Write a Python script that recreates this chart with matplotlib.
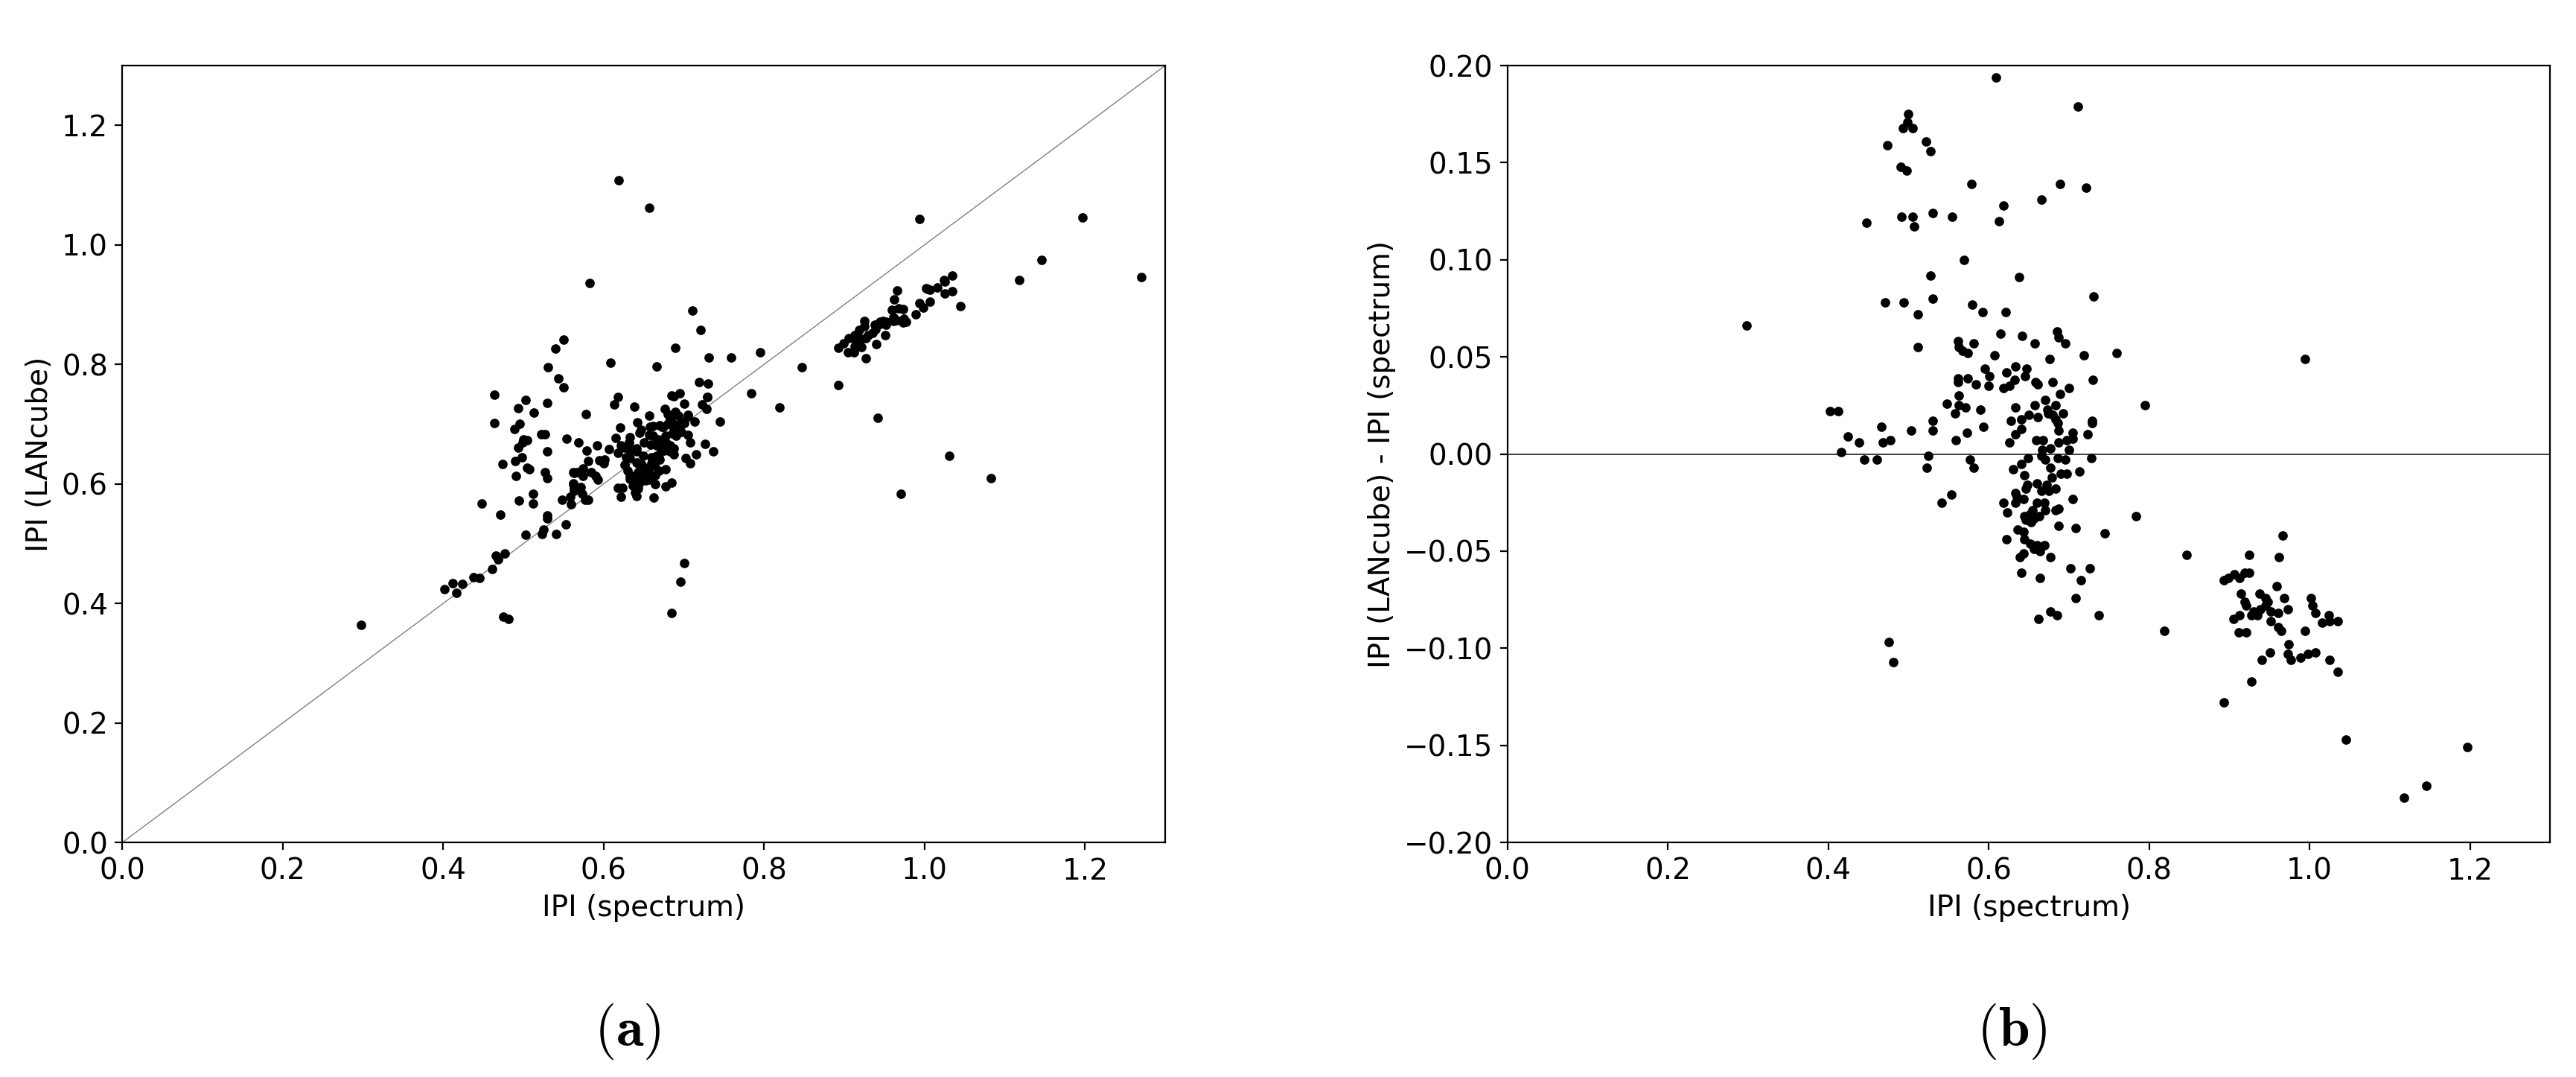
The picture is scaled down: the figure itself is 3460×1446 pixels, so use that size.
import numpy as np
import matplotlib.pyplot as plt

plt.rcParams['font.family'] = ['DejaVu Sans']
plt.rcParams['mathtext.fontset'] = 'cm'

# (IPI spectrum, IPI LANcube - IPI spectrum)
left_group = [
    (0.298, 0.066),
    (0.402, 0.022), (0.412, 0.022), (0.424, 0.009), (0.438, 0.006), (0.416, 0.001),
    (0.445, -0.003), (0.461, -0.003), (0.466, 0.014), (0.468, 0.006), (0.477, 0.007),
    (0.448, 0.119), (0.471, 0.078), (0.474, 0.159), (0.475, -0.097), (0.481, -0.107),
    (0.490, 0.148), (0.491, 0.122), (0.493, 0.168), (0.494, 0.078), (0.498, 0.146),
    (0.499, 0.171), (0.500, 0.175), (0.503, 0.012), (0.505, 0.168), (0.505, 0.122),
    (0.507, 0.117), (0.512, 0.072), (0.512, 0.055), (0.522, 0.161), (0.523, -0.007),
    (0.525, -0.001), (0.527, 0.156), (0.527, 0.092), (0.530, 0.124), (0.530, 0.080),
    (0.530, 0.017), (0.530, 0.012), (0.541, -0.025), (0.548, 0.026), (0.553, -0.021),
    (0.554, 0.122),
]

upper_main = [
    (0.609, 0.194), (0.711, 0.179), (0.578, 0.139), (0.689, 0.139), (0.721, 0.137),
    (0.666, 0.131), (0.618, 0.128), (0.613, 0.120), (0.569, 0.100), (0.638, 0.091),
    (0.731, 0.081), (0.579, 0.077), (0.592, 0.073), (0.621, 0.073),
    (0.615, 0.062), (0.642, 0.061), (0.685, 0.063), (0.687, 0.060), (0.695, 0.057),
    (0.657, 0.057), (0.562, 0.058), (0.563, 0.055), (0.567, 0.053), (0.574, 0.052),
    (0.581, 0.057), (0.607, 0.051), (0.676, 0.049), (0.719, 0.051), (0.759, 0.052),
    (0.595, 0.044), (0.633, 0.045), (0.647, 0.044), (0.622, 0.042), (0.601, 0.040),
    (0.632, 0.038), (0.645, 0.040), (0.562, 0.039), (0.562, 0.037), (0.574, 0.039),
    (0.584, 0.036), (0.600, 0.035), (0.618, 0.034), (0.626, 0.035), (0.658, 0.037),
    (0.661, 0.036), (0.680, 0.037), (0.700, 0.034), (0.689, 0.031), (0.730, 0.038),
    (0.563, 0.030), (0.670, 0.028), (0.563, 0.025), (0.571, 0.024), (0.558, 0.021),
    (0.590, 0.023), (0.633, 0.024), (0.657, 0.025), (0.673, 0.023), (0.674, 0.021),
    (0.683, 0.025), (0.693, 0.021), (0.680, 0.020), (0.683, 0.018), (0.628, 0.017),
    (0.641, 0.018), (0.650, 0.020), (0.661, 0.019), (0.729, 0.017), (0.729, 0.016),
    (0.686, 0.016), (0.687, 0.012), (0.593, 0.014), (0.573, 0.011), (0.641, 0.013),
    (0.633, 0.010), (0.723, 0.010), (0.705, 0.011), (0.705, 0.008), (0.559, 0.007),
    (0.626, 0.006), (0.659, 0.007), (0.668, 0.007), (0.687, 0.006), (0.697, 0.007),
    (0.677, 0.003), (0.667, 0.002), (0.700, 0.002), (0.795, 0.025),
]

lower_main = [
    (0.666, -0.001), (0.728, -0.002), (0.649, -0.002), (0.686, -0.002), (0.695, -0.003),
    (0.577, -0.003), (0.581, -0.007), (0.670, -0.003), (0.677, -0.007), (0.641, -0.005),
    (0.630, -0.008), (0.644, -0.011), (0.690, -0.010), (0.697, -0.010), (0.713, -0.009),
    (0.679, -0.012), (0.660, -0.015), (0.648, -0.016), (0.646, -0.018), (0.672, -0.016),
    (0.683, -0.018), (0.675, -0.019), (0.666, -0.019), (0.633, -0.020), (0.635, -0.022),
    (0.633, -0.025), (0.643, -0.023), (0.618, -0.025), (0.705, -0.023), (0.660, -0.025),
    (0.669, -0.025), (0.623, -0.030), (0.655, -0.029), (0.670, -0.029), (0.683, -0.029),
    (0.687, -0.028), (0.784, -0.032), (0.644, -0.032), (0.652, -0.031), (0.656, -0.033),
    (0.663, -0.032), (0.653, -0.035), (0.646, -0.034), (0.636, -0.039), (0.643, -0.040),
    (0.687, -0.037), (0.708, -0.038), (0.745, -0.041), (0.622, -0.044), (0.644, -0.044),
    (0.652, -0.046), (0.660, -0.047), (0.669, -0.047), (0.664, -0.050), (0.656, -0.049),
    (0.643, -0.051), (0.639, -0.053), (0.677, -0.053), (0.641, -0.061), (0.664, -0.064),
    (0.702, -0.059), (0.726, -0.059), (0.715, -0.065), (0.708, -0.074), (0.677, -0.081),
    (0.685, -0.083), (0.662, -0.085), (0.737, -0.083),
]

right_group = [
    (0.994, 0.049),
    (0.966, -0.042), (0.847, -0.052), (0.925, -0.052), (0.962, -0.053), (0.893, -0.065),
    (0.899, -0.064), (0.906, -0.062), (0.913, -0.064), (0.919, -0.061), (0.925, -0.061),
    (0.959, -0.068), (0.914, -0.072), (0.938, -0.072), (0.945, -0.074), (0.948, -0.076),
    (0.968, -0.074), (0.919, -0.076), (0.921, -0.078), (1.002, -0.074), (1.004, -0.078),
    (1.007, -0.082), (0.973, -0.080), (0.930, -0.081), (0.935, -0.083), (0.927, -0.083),
    (0.939, -0.080), (0.945, -0.078), (0.952, -0.081), (0.961, -0.082), (0.913, -0.083),
    (0.905, -0.085), (1.024, -0.083), (1.016, -0.087), (1.025, -0.086), (1.035, -0.086),
    (0.952, -0.086), (0.961, -0.089), (0.965, -0.091), (0.819, -0.091), (0.912, -0.092),
    (0.921, -0.092), (0.994, -0.091), (0.974, -0.098), (0.951, -0.102), (0.973, -0.103),
    (0.977, -0.106), (0.989, -0.105), (0.998, -0.103), (1.007, -0.102), (0.940, -0.106),
    (1.025, -0.106), (1.035, -0.112), (0.927, -0.117), (0.893, -0.128), (1.045, -0.147),
    (1.197, -0.151), (1.146, -0.171), (1.118, -0.177),
]

# points whose difference falls outside the +-0.2 window of panel (b)
far_outliers = [
    (0.583, 0.353), (0.550, 0.292), (0.540, 0.286), (0.531, 0.264), (0.544, 0.233),
    (0.550, 0.212), (0.464, 0.285), (0.503, 0.237), (0.493, 0.234), (0.513, 0.206),
    (0.530, 0.205), (0.464, 0.238), (0.495, 0.205), (0.489, 0.203),
    (0.619, 0.489), (0.657, 0.405),
    (1.270, -0.324), (1.083, -0.474), (1.031, -0.384), (0.971, -0.388), (0.942, -0.231),
    (0.700, -0.233), (0.696, -0.260), (0.685, -0.301),
]

pts = np.array(left_group + upper_main + lower_main + right_group + far_outliers)
ipi_spectrum = pts[:, 0]
ipi_diff = pts[:, 1]
ipi_lancube = ipi_spectrum + ipi_diff

fs = 14
fig = plt.figure(figsize=(17.3, 7.23), dpi=200)

ax_a = fig.add_axes([0.0475, 0.2178, 0.4048, 0.7213])
ax_a.plot([0, 1.3], [0, 1.3], color='gray', lw=0.5, zorder=1)
ax_a.scatter(ipi_spectrum, ipi_lancube, s=21, c='k', linewidths=0, zorder=2)
ax_a.set_xlim(0, 1.3)
ax_a.set_ylim(0, 1.3)
ax_a.set_xticks(np.arange(0, 1.21, 0.2))
ax_a.set_yticks(np.arange(0, 1.21, 0.2))
ax_a.set_xlabel('IPI (spectrum)', fontsize=fs)
ax_a.set_ylabel('IPI (LANcube)', fontsize=fs)
ax_a.tick_params(labelsize=fs)

ax_b = fig.add_axes([0.5852, 0.2178, 0.4048, 0.7213])
ax_b.axhline(0, color='0.25', lw=0.7, zorder=1)
ax_b.scatter(ipi_spectrum, ipi_diff, s=21, c='k', linewidths=0, zorder=2)
ax_b.set_xlim(0, 1.3)
ax_b.set_ylim(-0.2, 0.2)
ax_b.set_xticks(np.arange(0, 1.21, 0.2))
ax_b.set_yticks(np.arange(-0.2, 0.201, 0.05))
ax_b.set_xlabel('IPI (spectrum)', fontsize=fs)
ax_b.set_ylabel('IPI (LANcube) - IPI (spectrum)', fontsize=fs)
ax_b.tick_params(labelsize=fs)

fig.text(0.2436, 0.042, r'$\mathbf{(a)}$', ha='center', va='center', fontsize=27)
fig.text(0.781, 0.042, r'$\mathbf{(b)}$', ha='center', va='center', fontsize=27)

fig.savefig('out.png', dpi=200, facecolor='white')
